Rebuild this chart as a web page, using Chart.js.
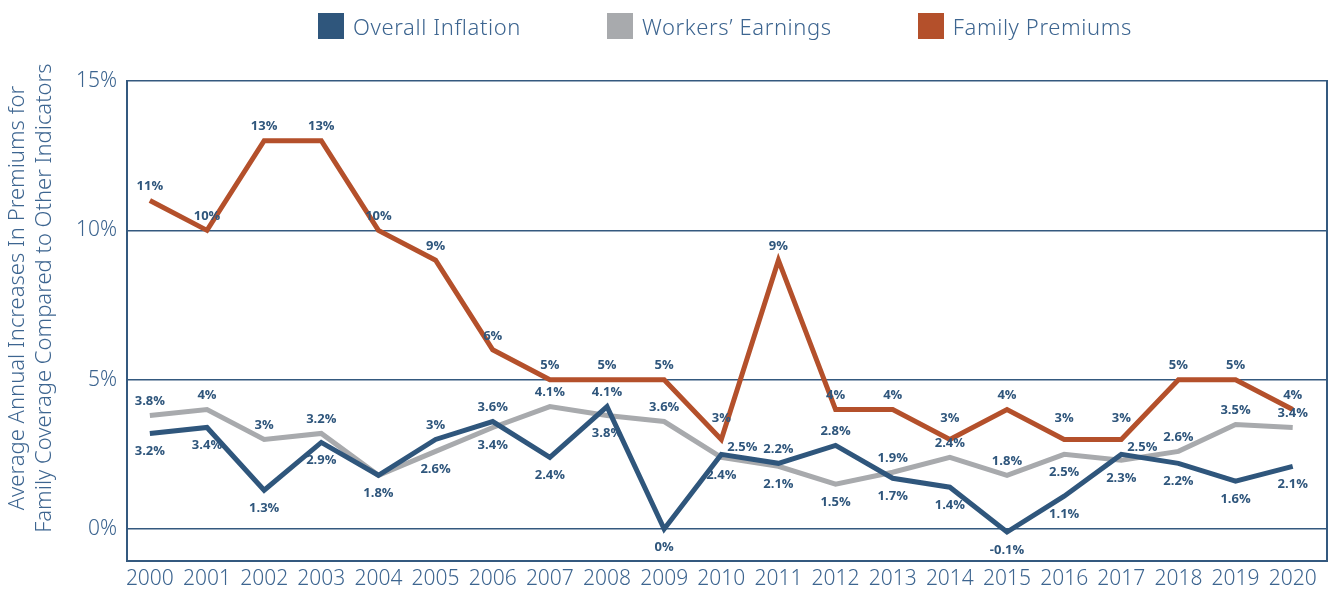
<!DOCTYPE html>
<html>
<head>
<meta charset="utf-8">
<script src="https://cdn.jsdelivr.net/npm/chart.js@4.4.1/dist/chart.umd.min.js"></script>
<style>
  body { margin: 0; background: #fff; }
  #wrap { position: relative; width: 1330px; height: 590px; overflow: hidden; }
  #wrap canvas { display: block; }
  #legend {
    position: absolute; top: 11px; left: 120px; width: 1210px;
    display: flex; justify-content: center; gap: 86px;
    font-family: "Noto Sans", sans-serif; font-weight: 300; font-size: 22px;
    letter-spacing: 0.6px; color: #3d6590;
  }
  #legend .item { display: flex; align-items: center; }
  #legend .box { width: 26px; height: 26px; margin-right: 9px; }
</style>
</head>
<body>
<div id="wrap">
  <div id="legend"></div>
  <canvas id="myChart" width="1330" height="590"></canvas>
</div>
<script>
'use strict';

const years = [2000, 2001, 2002, 2003, 2004, 2005, 2006, 2007, 2008, 2009, 2010,
  2011, 2012, 2013, 2014, 2015, 2016, 2017, 2018, 2019, 2020];

const inflation = [3.2, 3.4, 1.3, 2.9, 1.8, 3.0, 3.6, 2.4, 4.1, 0, 2.5,
  2.2, 2.8, 1.7, 1.4, -0.1, 1.1, 2.5, 2.2, 1.6, 2.1];

const earnings = [3.8, 4.0, 3.0, 3.2, 1.8, 2.6, 3.4, 4.1, 3.8, 3.6, 2.4,
  2.1, 1.5, 1.9, 2.4, 1.8, 2.5, 2.3, 2.6, 3.5, 3.4];

const premiums = [11, 10, 13, 13, 10, 9, 6, 5, 5, 5, 3,
  9, 4, 4, 3, 4, 3, 3, 5, 5, 4];

const yTicks = [0, 5, 10, 15];

const seriesNames = ['Overall Inflation', 'Workers\u2019 Earnings', 'Family Premiums'];
const seriesColors = ['#2f567c', '#a8aaad', '#b4502b'];

const axisColor = '#34597f';
const textColor = '#3d6590';

// label placement exceptions ( series index - point index )
const labelNudge = {
  '0-4': 'none',
  '0-10': 'aboveRight',
  '0-17': 'aboveRight',
  '1-16': 'below',
  '2-10': 'high',
  '2-14': 'high',
  '2-16': 'high',
  '2-17': 'high'
};

// legend in html
const legend = document.getElementById( 'legend' );
for ( let i = 0; i < seriesNames.length; i++ ) {
  let item = document.createElement( 'div' );
  item.className = 'item';
  item.innerHTML = `<span class="box" style="background:${seriesColors[i]}"></span><span>${seriesNames[i]}</span>`;
  legend.appendChild( item );
}

function pointsOf( values ) {
  return values.map( ( v, i ) => ( { x: years[i], y: v } ) );
}

// value labels above / below each point
const valueLabels = {
  id: 'valueLabels',
  afterDatasetsDraw( chart ) {
    const ctx = chart.ctx;
    ctx.save();
    ctx.font = 'bold 13px "Open Sans", sans-serif';
    ctx.fillStyle = '#2f567c';
    ctx.textAlign = 'center';
    ctx.textBaseline = 'middle';
    const sets = [inflation, earnings, premiums];
    chart.data.datasets.forEach( ( ds, d ) => {
      const meta = chart.getDatasetMeta( d );
      meta.data.forEach( ( pt, i ) => {
        const v = sets[d][i];
        let place = 'above';
        if ( d < 2 && v <= sets[1 - d][i] ) {
          place = 'below';
        }
        place = labelNudge[d + '-' + i] || place;
        let x = pt.x;
        let y = pt.y;
        if ( place === 'none' ) {
          return;
        } else if ( place === 'above' ) {
          y -= 14;
        } else if ( place === 'below' ) {
          y += 18;
        } else if ( place === 'high' ) {
          y -= 21;
        } else if ( place === 'aboveRight' ) {
          x += 21;
          y -= 7;
        }
        ctx.fillText( v + '%', x, y );
      } );
    } );
    ctx.restore();
  }
};

// leading spaces lift the rotated title a little above the axis centre
const titlePad = '        ';

const ctx = document.getElementById( 'myChart' ).getContext( '2d' );
const myChart = new Chart( ctx, {
  type: 'line',
  data: {
    datasets: [{
      label: seriesNames[0],
      data: pointsOf( inflation ),
      borderColor: seriesColors[0],
      order: 1
    }, {
      label: seriesNames[1],
      data: pointsOf( earnings ),
      borderColor: seriesColors[1],
      order: 2
    }, {
      label: seriesNames[2],
      data: pointsOf( premiums ),
      borderColor: seriesColors[2],
      order: 0
    }]
  },
  options: {
    responsive: false,
    animation: false,
    layout: { padding: { top: 81, left: 0, right: 3, bottom: 0 } },
    elements: {
      line: { borderWidth: 5, tension: 0, fill: false, borderJoinStyle: 'miter', borderCapStyle: 'butt' },
      point: { radius: 0, hoverRadius: 0 }
    },
    plugins: {
      legend: { display: false },
      tooltip: { enabled: false }
    },
    scales: {
      x: {
        type: 'linear',
        min: 1999.6,
        max: 2020.6,
        afterBuildTicks: ( axis ) => { axis.ticks = years.map( v => ( { value: v } ) ); },
        afterFit: ( axis ) => { axis.height = 29; },
        ticks: {
          callback: ( v ) => String( v ),
          color: textColor,
          padding: 0,
          maxRotation: 0,
          autoSkip: false,
          font: { family: '"Noto Sans"', size: 21, weight: '300', lineHeight: 1 }
        },
        grid: { display: false },
        border: { display: true, color: axisColor, width: 2 }
      },
      y: {
        min: -1.07,
        max: 15,
        afterBuildTicks: ( axis ) => { axis.ticks = yTicks.map( v => ( { value: v } ) ); },
        afterFit: ( axis ) => { axis.width = 127; },
        ticks: {
          callback: ( v ) => v + '%',
          color: textColor,
          padding: 10,
          font: { family: '"Noto Sans"', size: 21, weight: '300' }
        },
        grid: { color: axisColor, lineWidth: 1.5, drawTicks: false },
        border: { display: true, color: axisColor, width: 2 },
        title: {
          display: true,
          text: [titlePad + 'Average Annual Increases In Premiums for', titlePad + 'Family Coverage Compared to Other Indicators'],
          color: textColor,
          padding: { top: 5, bottom: 0 },
          font: { family: '"Noto Sans"', size: 22, weight: '300', lineHeight: 1.2 }
        }
      },
      y2: {
        position: 'right',
        min: -1.07,
        max: 15,
        afterFit: ( axis ) => { axis.width = 0; },
        ticks: { display: false },
        grid: { display: false },
        border: { display: true, color: axisColor, width: 2 }
      }
    }
  },
  plugins: [valueLabels]
} );
</script>
</body>
</html>
